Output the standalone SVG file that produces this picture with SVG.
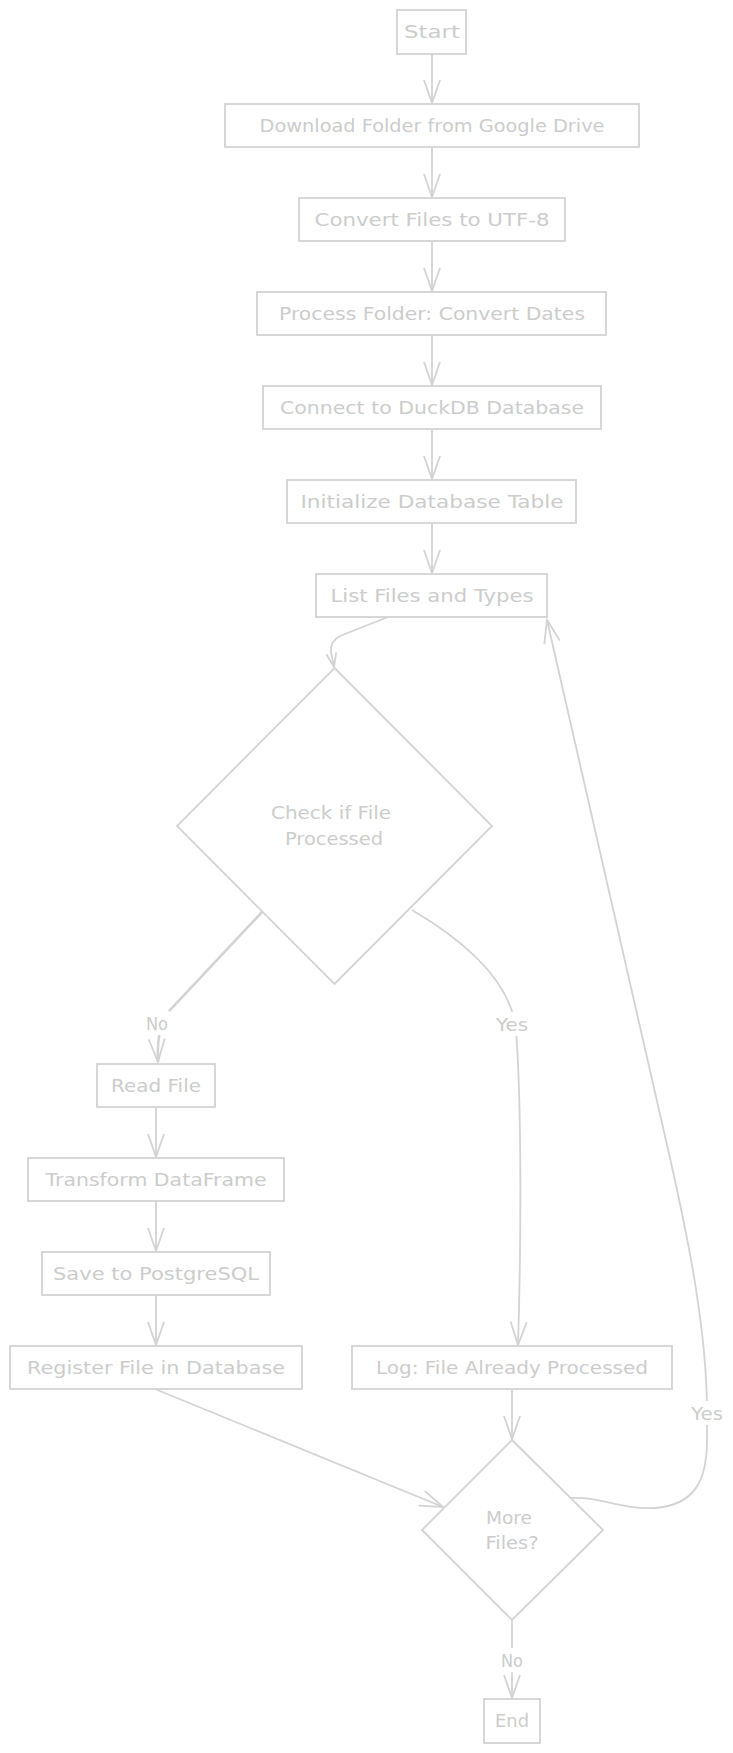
<svg xmlns="http://www.w3.org/2000/svg" width="733" height="1753" viewBox="0 0 733 1753">
<style>
.n rect, .n polygon { fill: #ffffff; stroke: #d3d3d3; stroke-width: 1.8; }
.t { font-family: "DejaVu Sans", "Liberation Sans", sans-serif; font-size: 18px; fill: #cccccc; text-anchor: middle; }
.e path { fill: none; stroke: #d3d3d3; stroke-width: 1.8; }
.lbl rect { fill: #ffffff; stroke: none; }
</style>
<defs>
<marker id="arr" markerUnits="userSpaceOnUse" markerWidth="26" markerHeight="18" viewBox="0 0 26 18" refX="24" refY="9" orient="auto">
<path d="M1,1 L24,9 L1,17" fill="none" stroke="#d3d3d3" stroke-width="1.8"/>
</marker>
<marker id="arrs" markerUnits="userSpaceOnUse" markerWidth="16" markerHeight="12" viewBox="0 0 16 12" refX="15" refY="6" orient="auto">
<path d="M1,1 L15,6 L1,11" fill="none" stroke="#d3d3d3" stroke-width="1.8"/>
</marker>
</defs>
<rect width="733" height="1753" fill="#ffffff"/>
<g id="connectors" class="e">
<path d="M432,54 L432,103" marker-end="url(#arr)"/>
<path d="M432,147 L432,197" marker-end="url(#arr)"/>
<path d="M432,241 L432,291" marker-end="url(#arr)"/>
<path d="M432,335 L432,385" marker-end="url(#arr)"/>
<path d="M432,429 L432,479" marker-end="url(#arr)"/>
<path d="M432,523 L432,573" marker-end="url(#arr)"/>
<path d="M388,617 L340,636 Q330,641 331,652 L334,667" marker-end="url(#arrs)"/>
<path d="M263,911 L170,1010 Q156,1026 158,1062" marker-end="url(#arr)" style="stroke-width:2.6"/>
<path d="M412,910 C480,950 512,990 516,1030 C522,1110 521,1250 518,1345" marker-end="url(#arr)"/>
<path d="M156,1108 L156,1157" marker-end="url(#arr)"/>
<path d="M156,1202 L156,1251" marker-end="url(#arr)"/>
<path d="M156,1296 L156,1345" marker-end="url(#arr)"/>
<path d="M155,1389 L443,1507" marker-end="url(#arr)"/>
<path d="M512,1389 L512,1439" marker-end="url(#arr)"/>
<path d="M570,1498 C600,1496 620,1510 655,1508 C695,1505 707,1480 707,1440 L707,1413 C707,1330 688,1238 670,1158 L547,620" marker-end="url(#arr)"/>
<path d="M512,1621 L512,1698" marker-end="url(#arr)"/>
</g>
<g id="edge-labels" class="lbl">
<rect x="144" y="1011" width="26" height="24"/>
<text class="t" x="157" y="1030" textLength="22" lengthAdjust="spacingAndGlyphs">No</text>
<rect x="494" y="1012" width="36" height="24"/>
<text class="t" x="512" y="1031" textLength="32" lengthAdjust="spacingAndGlyphs">Yes</text>
<rect x="689" y="1401" width="36" height="24"/>
<text class="t" x="707" y="1420" textLength="32" lengthAdjust="spacingAndGlyphs">Yes</text>
<rect x="499" y="1648" width="26" height="24"/>
<text class="t" x="512" y="1667" textLength="22" lengthAdjust="spacingAndGlyphs">No</text>
</g>
<g id="start" class="n"><rect x="397" y="10" width="69" height="44"/><text class="t" x="432" y="38" textLength="56" lengthAdjust="spacingAndGlyphs">Start</text></g>
<g id="download" class="n"><rect x="225" y="104" width="414" height="43"/><text class="t" x="432" y="132" textLength="345" lengthAdjust="spacingAndGlyphs">Download Folder from Google Drive</text></g>
<g id="convert" class="n"><rect x="299" y="198" width="266" height="43"/><text class="t" x="432" y="226" textLength="235" lengthAdjust="spacingAndGlyphs">Convert Files to UTF-8</text></g>
<g id="process" class="n"><rect x="257" y="292" width="349" height="43"/><text class="t" x="432" y="320" textLength="306" lengthAdjust="spacingAndGlyphs">Process Folder: Convert Dates</text></g>
<g id="connect" class="n"><rect x="263" y="386" width="338" height="43"/><text class="t" x="432" y="414" textLength="304" lengthAdjust="spacingAndGlyphs">Connect to DuckDB Database</text></g>
<g id="init" class="n"><rect x="287" y="480" width="289" height="43"/><text class="t" x="432" y="508" textLength="263" lengthAdjust="spacingAndGlyphs">Initialize Database Table</text></g>
<g id="list" class="n"><rect x="316" y="574" width="231" height="43"/><text class="t" x="432" y="602" textLength="203" lengthAdjust="spacingAndGlyphs">List Files and Types</text></g>
<g id="check" class="n"><polygon points="334.5,668 492,826 334.5,984 177,826"/><text class="t" x="331" y="819" textLength="120" lengthAdjust="spacingAndGlyphs">Check if File</text><text class="t" x="334" y="845" textLength="98" lengthAdjust="spacingAndGlyphs">Processed</text></g>
<g id="read" class="n"><rect x="97" y="1064" width="118" height="43"/><text class="t" x="156" y="1092" textLength="90" lengthAdjust="spacingAndGlyphs">Read File</text></g>
<g id="transform" class="n"><rect x="28" y="1158" width="256" height="43"/><text class="t" x="156" y="1186" textLength="221" lengthAdjust="spacingAndGlyphs">Transform DataFrame</text></g>
<g id="save" class="n"><rect x="42" y="1252" width="228" height="43"/><text class="t" x="156" y="1280" textLength="206" lengthAdjust="spacingAndGlyphs">Save to PostgreSQL</text></g>
<g id="register" class="n"><rect x="10" y="1346" width="292" height="43"/><text class="t" x="156" y="1374" textLength="258" lengthAdjust="spacingAndGlyphs">Register File in Database</text></g>
<g id="log" class="n"><rect x="352" y="1346" width="320" height="43"/><text class="t" x="512" y="1374" textLength="272" lengthAdjust="spacingAndGlyphs">Log: File Already Processed</text></g>
<g id="more" class="n"><polygon points="512,1440 603,1530 512,1620 422,1530"/><text class="t" x="509" y="1524" textLength="46" lengthAdjust="spacingAndGlyphs">More</text><text class="t" x="512" y="1549" textLength="53" lengthAdjust="spacingAndGlyphs">Files?</text></g>
<g id="end" class="n"><rect x="484" y="1699" width="56" height="44"/><text class="t" x="512" y="1727" textLength="34" lengthAdjust="spacingAndGlyphs">End</text></g>
</svg>
